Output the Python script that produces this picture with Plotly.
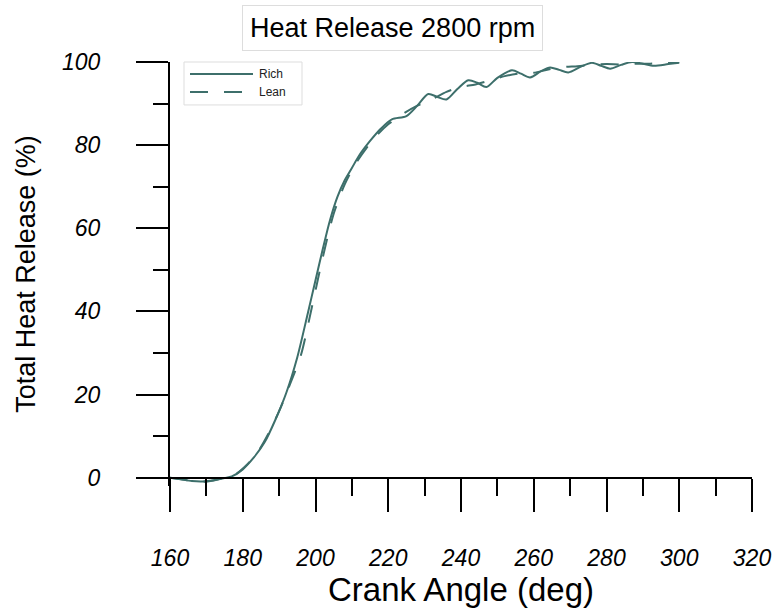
import plotly.graph_objects as go

# Crank angle (deg) and cumulative heat release (%) for the two mixtures
rich_angle = [160, 163, 166, 169, 172, 175, 177, 180, 183, 186, 189, 192, 195, 198,
              200, 202, 204, 206, 208, 210, 212, 215, 218, 221, 225, 228, 231, 233.5,
              236, 239, 242, 244.5, 247, 250, 254, 256.5, 259, 262, 264.5, 267, 269.5,
              273, 276, 278.5, 281, 284, 287, 290, 293, 297, 300]
rich_release = [0, -0.4, -0.8, -0.9, -0.6, -0.1, 0.3, 2.0, 4.8, 8.5, 14, 20.5, 29, 40,
                47.5, 55, 62, 67.5, 71.5, 74.5, 77.5, 81, 84, 86.2, 87, 89.5, 92.3, 91.6,
                91.0, 93.5, 95.6, 95.0, 94.0, 96.2, 98.0, 97.2, 96.3, 97.8, 98.7, 98.1,
                97.5, 98.9, 99.8, 99.1, 98.4, 99.3, 100.0, 99.6, 99.1, 99.5, 99.8]

lean_angle = [160, 164, 168, 172, 175, 178, 181, 184, 187, 190, 193, 196, 199, 202,
              205, 208, 211, 214, 217, 220, 224, 228, 232, 236, 240, 244, 248, 252,
              256, 260, 264, 268, 272, 276, 280, 284, 288, 292, 296, 300]
lean_release = [0, -0.5, -1.0, -0.7, 0, 0.8, 3, 6, 10.5, 16, 22.5, 29.5, 41, 53,
                63.5, 70.5, 75.5, 79.3, 82.5, 85, 87.5, 89.5, 91, 92.8, 94, 94.6, 95.6, 96.6,
                97.2, 97.4, 98.2, 98.8, 99.0, 99.3, 99.5, 99.4, 99.6, 99.6, 99.8, 100]

x_ticks = [160, 180, 200, 220, 240, 260, 280, 300, 320]
y_ticks = [0, 20, 40, 60, 80, 100]

line_color = "#3d6f6b"
font_family = "Arial, Liberation Sans, sans-serif"

W, H = 778, 609
L, R, T = 170, 26, 62
Y_MIN, Y_MAX = -2, 100
px_per_pct = (478 - 62) / 100.0
B = H - (478 + (0 - Y_MIN) * px_per_pct)

plot_w = W - L - R
plot_h = H - T - B


def fx(px):
    return (px - L) / plot_w


def fy(py):
    return (H - B - py) / plot_h


fig = go.Figure()
fig.add_trace(go.Scatter(x=rich_angle, y=rich_release, mode="lines", name="Rich",
                         line=dict(color=line_color, width=2, shape="spline", smoothing=0.8),
                         showlegend=False))
fig.add_trace(go.Scatter(x=lean_angle, y=lean_release, mode="lines", name="Lean",
                         line=dict(color=line_color, width=2, dash="18px,16px",
                                   shape="spline", smoothing=0.8),
                         showlegend=False))

axis_common = dict(
    showgrid=False, zeroline=False, showline=True, linecolor="black", linewidth=2,
    ticks="outside", tickwidth=2, tickcolor="black",
    tickfont=dict(family=font_family, size=23, color="black", style="italic"),
)

fig.update_xaxes(
    range=[160, 320], tickvals=x_ticks, ticktext=[str(v) for v in x_ticks],
    ticklen=33, anchor="free", position=(0 - Y_MIN) / (Y_MAX - Y_MIN),
    minor=dict(dtick=10, tick0=160, ticks="outside", ticklen=17, tickwidth=2, tickcolor="black"),
    ticklabelstandoff=27,
    title=dict(text="Crank Angle (deg)", font=dict(family=font_family, size=33, color="black"),
               standoff=3),
    **axis_common,
)
fig.update_yaxes(
    range=[Y_MIN, Y_MAX], tickvals=y_ticks, ticktext=[str(v) for v in y_ticks],
    ticklen=32,
    minor=dict(tickvals=[10, 30, 50, 70, 90], ticks="outside", ticklen=15, tickwidth=2,
               tickcolor="black"),
    ticklabelstandoff=31,
    title=dict(text="Total Heat Release (%)", font=dict(family=font_family, size=27, color="black"),
               standoff=19),
    **axis_common,
)

# Legend box drawn by hand so the sample lines can be long
shapes = [
    dict(type="rect", xref="paper", yref="paper", x0=fx(184), x1=fx(302), y0=fy(105), y1=fy(62),
         line=dict(color="#dddddd", width=1), fillcolor="white", layer="above"),
    dict(type="line", xref="paper", yref="paper", x0=fx(190), x1=fx(253), y0=fy(74), y1=fy(74),
         line=dict(color=line_color, width=2), layer="above"),
    dict(type="line", xref="paper", yref="paper", x0=fx(190), x1=fx(253), y0=fy(92), y1=fy(92),
         line=dict(color=line_color, width=2, dash="18px,16px"), layer="above"),
]
annotations = [
    dict(text="Rich", xref="paper", yref="paper", x=fx(257), y=fy(74), xanchor="left",
         yanchor="middle", showarrow=False, font=dict(family=font_family, size=12, color="#222")),
    dict(text="Lean", xref="paper", yref="paper", x=fx(257), y=fy(92), xanchor="left",
         yanchor="middle", showarrow=False, font=dict(family=font_family, size=12, color="#222")),
    dict(text="Heat Release 2800 rpm", xref="paper", yref="paper", x=fx(392), y=fy(28),
         xanchor="center", yanchor="middle", showarrow=False,
         font=dict(family=font_family, size=27, color="black"),
         bordercolor="#dddddd", borderwidth=1, borderpad=7, bgcolor="white"),
]

fig.update_layout(
    width=W, height=H,
    margin=dict(l=L, r=R, t=T, b=B, autoexpand=False),
    plot_bgcolor="white", paper_bgcolor="white",
    shapes=shapes, annotations=annotations,
    showlegend=False,
)

fig.write_html("out.html")
